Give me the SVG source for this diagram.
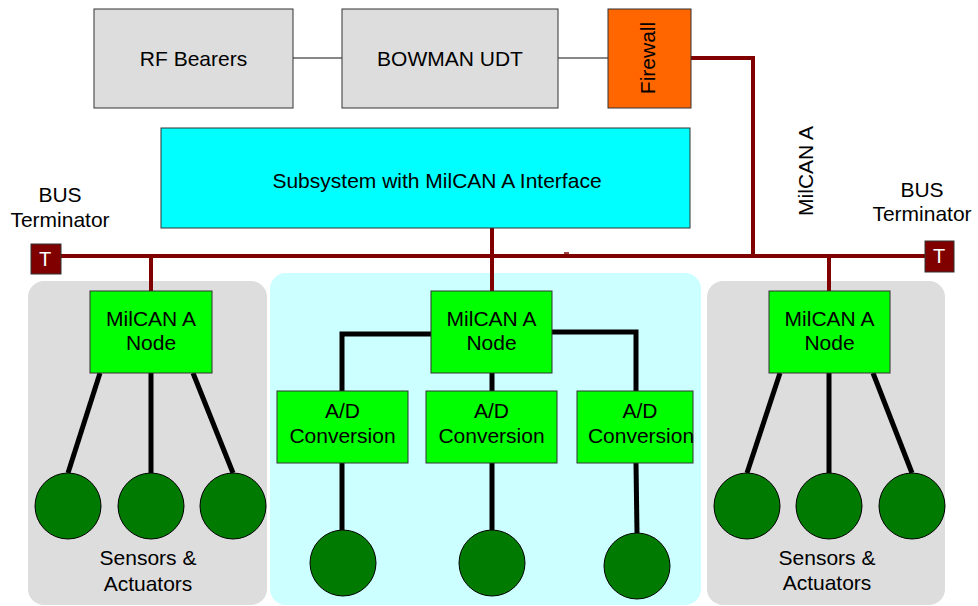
<svg xmlns="http://www.w3.org/2000/svg" width="978" height="606" viewBox="0 0 978 606">
  <style>
    text { font-family: "Liberation Sans", Arial, sans-serif; font-size: 21px; fill: #000; text-anchor: middle; }
    .box { stroke: #333; stroke-width: 1; }
    .grey { fill: #DDDDDD; }
    .green { fill: #00FF00; }
    .dev { fill: #007A00; stroke: #000; stroke-width: 1; }
    .bus { stroke: #800000; stroke-width: 4; fill: none; }
    .wire { stroke: #000; stroke-width: 5; fill: none; }
    .link { stroke: #888; stroke-width: 2; fill: none; }
    .term { fill: #800000; stroke: #333; stroke-width: 1; }
    .tlabel { fill: #fff; font-size: 20px; }
  </style>

  <!-- background panels -->
  <g id="panel-left"><rect x="28" y="281" width="239" height="324" rx="16" fill="#DDDDDD"/></g>
  <g id="panel-centre"><rect x="270" y="273" width="431" height="332" rx="16" fill="#CCFFFF"/></g>
  <g id="panel-right"><rect x="707" y="281" width="238" height="324" rx="16" fill="#DDDDDD"/></g>

  <!-- connectors -->
  <g id="connectors">
    <line class="link" x1="293" y1="58" x2="342" y2="58"/>
    <line class="link" x1="558" y1="58" x2="608" y2="58"/>
    <polyline class="bus" points="691,58 753,58 753,256"/>
    <line class="bus" x1="61" y1="256" x2="925" y2="256"/>
    <line class="bus" x1="151" y1="256" x2="151" y2="291"/>
    <line class="bus" x1="492" y1="228" x2="492" y2="291"/>
    <line class="bus" x1="829" y1="256" x2="829" y2="291"/>
    <line stroke="#800000" stroke-width="1.5" x1="564" y1="253" x2="569" y2="253"/>

    <!-- left cluster -->
    <line class="wire" x1="100" y1="373" x2="68" y2="473"/>
    <line class="wire" x1="151" y1="373" x2="151" y2="473"/>
    <line class="wire" x1="193" y1="373" x2="233" y2="473"/>

    <!-- centre cluster -->
    <polyline class="wire" points="431,334 342,334 342,391"/>
    <polyline class="wire" points="552,332 636,332 636,391"/>
    <line class="wire" x1="492" y1="373" x2="492" y2="391"/>
    <line class="wire" x1="342" y1="463" x2="342" y2="530"/>
    <line class="wire" x1="492" y1="463" x2="492" y2="530"/>
    <line class="wire" x1="636" y1="463" x2="637" y2="533"/>

    <!-- right cluster -->
    <line class="wire" x1="780" y1="373" x2="747" y2="473"/>
    <line class="wire" x1="829" y1="373" x2="829" y2="473"/>
    <line class="wire" x1="873" y1="373" x2="912" y2="473"/>
  </g>

  <!-- top row -->
  <g id="rf-bearers">
    <rect class="box grey" x="94" y="9" width="199" height="99"/>
    <text x="193.5" y="65.5">RF Bearers</text>
  </g>
  <g id="bowman-udt">
    <rect class="box grey" x="342" y="9" width="216" height="99"/>
    <text x="450" y="65.5">BOWMAN UDT</text>
  </g>
  <g id="firewall">
    <rect class="box" fill="#FF6600" x="608" y="9" width="83" height="99"/>
    <text transform="translate(655,58) rotate(-90)">Firewall</text>
  </g>

  <g id="subsystem">
    <rect class="box" fill="#00FFFF" x="161" y="128" width="529" height="100"/>
    <text x="437" y="188">Subsystem with MilCAN A Interface</text>
  </g>

  <g id="bus-label"><text transform="translate(813,171) rotate(-90)">MilCAN A</text></g>

  <g id="terminator-left">
    <text x="60" y="202">BUS</text>
    <text x="60" y="227">Terminator</text>
    <rect class="term" x="31" y="244" width="30" height="30"/>
    <text class="tlabel" x="45" y="266">T</text>
  </g>
  <g id="terminator-right">
    <text x="922" y="197">BUS</text>
    <text x="922" y="221">Terminator</text>
    <rect class="term" x="925" y="241" width="29" height="31"/>
    <text class="tlabel" x="939" y="263">T</text>
  </g>

  <!-- MilCAN A nodes -->
  <g id="node-left">
    <rect class="box green" x="90" y="291" width="122" height="82"/>
    <text x="151" y="326">MilCAN A</text>
    <text x="151" y="350">Node</text>
  </g>
  <g id="node-centre">
    <rect class="box green" x="431" y="291" width="121" height="82"/>
    <text x="491.5" y="326">MilCAN A</text>
    <text x="491.5" y="350">Node</text>
  </g>
  <g id="node-right">
    <rect class="box green" x="769" y="291" width="121" height="82"/>
    <text x="829.5" y="326">MilCAN A</text>
    <text x="829.5" y="350">Node</text>
  </g>

  <!-- A/D conversion blocks -->
  <g id="ad-1">
    <rect class="box green" x="277" y="391" width="131" height="72"/>
    <text x="342.5" y="418">A/D</text>
    <text x="342.5" y="443">Conversion</text>
  </g>
  <g id="ad-2">
    <rect class="box green" x="426" y="391" width="131" height="72"/>
    <text x="491.5" y="418">A/D</text>
    <text x="491.5" y="443">Conversion</text>
  </g>
  <g id="ad-3">
    <rect class="box green" x="577" y="391" width="116" height="72"/>
    <text x="640" y="418">A/D</text>
    <text x="641" y="443">Conversion</text>
  </g>

  <!-- sensors and actuators -->
  <g id="dev-l1"><circle class="dev" cx="68" cy="506" r="33"/></g>
  <g id="dev-l2"><circle class="dev" cx="151" cy="506" r="33"/></g>
  <g id="dev-l3"><circle class="dev" cx="233" cy="506" r="33"/></g>
  <g id="dev-c1"><circle class="dev" cx="343" cy="563" r="33"/></g>
  <g id="dev-c2"><circle class="dev" cx="492" cy="563" r="33"/></g>
  <g id="dev-c3"><circle class="dev" cx="637" cy="566" r="33"/></g>
  <g id="dev-r1"><circle class="dev" cx="747" cy="506" r="33"/></g>
  <g id="dev-r2"><circle class="dev" cx="829" cy="506" r="33"/></g>
  <g id="dev-r3"><circle class="dev" cx="912" cy="506" r="33"/></g>

  <g id="label-left">
    <text x="148" y="565">Sensors &amp;</text>
    <text x="148" y="591">Actuators</text>
  </g>
  <g id="label-right">
    <text x="827" y="565">Sensors &amp;</text>
    <text x="827" y="590">Actuators</text>
  </g>
</svg>
